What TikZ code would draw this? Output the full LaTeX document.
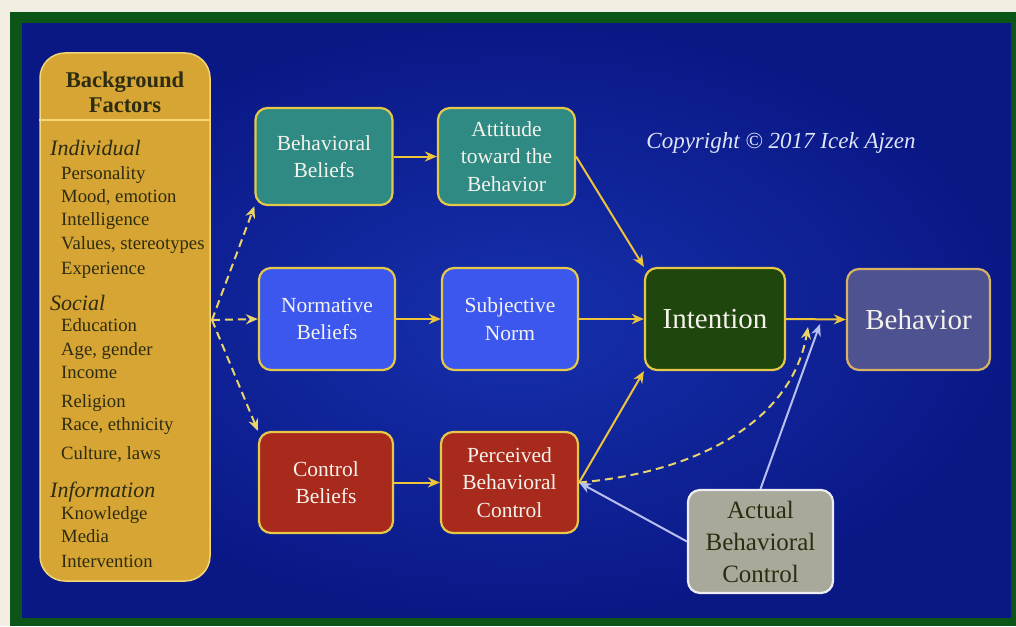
\documentclass[tikz,border=0pt]{standalone}
\usepackage{fontspec}
\setmainfont{Liberation Serif}
\usetikzlibrary{arrows.meta}
\definecolor{beige}{HTML}{F2EEE2}
\definecolor{framegreen}{HTML}{0B5516}
\definecolor{bgin}{HTML}{1630AC}
\definecolor{bgout}{HTML}{0A1886}
\definecolor{gold}{HTML}{D6A534}
\definecolor{goldedge}{HTML}{F3D676}
\definecolor{olive}{HTML}{2E2C10}
\definecolor{tealc}{HTML}{2F8A84}
\definecolor{bluec}{HTML}{3B57EE}
\definecolor{redc}{HTML}{A82A1C}
\definecolor{greenc}{HTML}{1F460C}
\definecolor{slatec}{HTML}{4E5290}
\definecolor{grayc}{HTML}{A9A99B}
\definecolor{grayedge}{HTML}{ECECF2}
\definecolor{boxedge}{HTML}{E6C848}
\definecolor{behedge}{HTML}{D8B262}
\definecolor{textwhite}{HTML}{F4F2EA}
\definecolor{arrowyellow}{HTML}{EEC43A}
\definecolor{dashyellow}{HTML}{E8D468}
\definecolor{lavender}{HTML}{B8C0F0}
\definecolor{copyc}{HTML}{E0E4F8}
\begin{document}
\begin{tikzpicture}[x=1pt,y=-1pt,
  box/.style={draw=boxedge, line width=2.2pt, rounded corners=12pt, text=textwhite, align=center, inner sep=0pt,
    font=\fontsize{21.5}{27.5}\selectfont},
  bigbox/.style={box, font=\fontsize{29}{32}\selectfont},
  cat/.style={anchor=base west, inner sep=0pt, text=olive, font=\fontsize{22}{24}\selectfont\itshape},
  item/.style={anchor=base west, inner sep=0pt, text=olive, font=\fontsize{18.7}{20}\selectfont},
  arr/.style={-{Stealth[length=12pt,width=10pt]}, line width=2pt, draw=arrowyellow},
  darr/.style={-{Stealth[length=12pt,width=10pt]}, line width=2pt, draw=dashyellow, dash pattern=on 8pt off 5pt},
  warr/.style={-{Stealth[length=12pt,width=10pt]}, line width=2pt, draw=lavender}]
\useasboundingbox (0,0) rectangle (1016,626);
\fill[beige] (0,0) rectangle (1016,626);
\fill[framegreen] (10,12) rectangle (1016,626);
\shade[inner color=bgin, outer color=bgout] (22,24) rectangle (1011,617);

% Background factors box
\node[draw=goldedge, fill=gold, line width=1.5pt, rounded corners=25pt, minimum width=170pt, minimum height=528pt, inner sep=0pt] (bf) at (125,317) {};
\draw[goldedge, line width=1.2pt] (bf.west |- 0,120) -- (bf.east |- 0,120);
\node[align=center, text=olive, font=\fontsize{22.5}{25}\selectfont\bfseries] (bft) at (125,92) {Background\\Factors};
\node[cat] (c1) at (50,155) {Individual};
\node[item] (i1) at (61,179) {Personality};
\node[item] (i2) at (61,202) {Mood, emotion};
\node[item] (i3) at (61,225) {Intelligence};
\node[item] (i4) at (61,249) {Values, stereotypes};
\node[item] (i5) at (61,274) {Experience};
\node[cat] (c2) at (50,310) {Social};
\node[item] (i6) at (61,331) {Education};
\node[item] (i7) at (61,355) {Age, gender};
\node[item] (i8) at (61,378) {Income};
\node[item] (i9) at (61,407) {Religion};
\node[item] (i10) at (61,430) {Race, ethnicity};
\node[item] (i11) at (61,459) {Culture, laws};
\node[cat] (c3) at (50,497) {Information};
\node[item] (i12) at (61,519) {Knowledge};
\node[item] (i13) at (61,542) {Media};
\node[item] (i14) at (61,567) {Intervention};
\coordinate (bfo) at (212,320);

% main boxes
\node[box, fill=tealc, minimum width=137pt, minimum height=97pt] (bb) at (324,156.5) {Behavioral\\Beliefs};
\node[box, fill=tealc, minimum width=137pt, minimum height=97pt] (att) at (506.5,156.5) {Attitude\\toward the\\Behavior};
\node[box, fill=bluec, minimum width=136pt, minimum height=102pt] (nb) at (327,319) {Normative\\Beliefs};
\node[box, fill=bluec, minimum width=136pt, minimum height=102pt] (sn) at (510,319) {Subjective\\Norm};
\node[box, fill=redc, minimum width=134pt, minimum height=101pt] (cb) at (326,482.5) {Control\\Beliefs};
\node[box, fill=redc, minimum width=137pt, minimum height=101pt] (pbc) at (509.5,482.5) {Perceived\\Behavioral\\Control};
\node[bigbox, fill=greenc, minimum width=140pt, minimum height=102pt] (int) at (715,319) {Intention};
\node[bigbox, fill=slatec, draw=behedge, minimum width=143pt, minimum height=101pt] (beh) at (918.5,319.5) {Behavior};
\node[box, fill=grayc, draw=grayedge, text=olive, font=\fontsize{25}{32}\selectfont, minimum width=145pt, minimum height=103pt] (abc) at (760.5,541.5) {Actual\\Behavioral\\Control};

\node[text=copyc, font=\fontsize{23}{25}\selectfont\itshape, inner sep=0pt] (copy) at (781,143) {Copyright \textcopyright\ 2017 Icek Ajzen};

% connectors
\draw[darr] (bfo) -- (bb.south west);
\draw[darr] (bfo) -- (nb.west);
\draw[darr] (bfo) -- (cb.north west);
\draw[arr] (bb.east) -- (att.west);
\draw[arr] (nb.east) -- (sn.west);
\draw[arr] (cb.east) -- (pbc.west);
\draw[arr] (att.east) -- (int.north west);
\draw[arr] (sn.east) -- (int.west);
\draw[arr] (pbc.east) -- (int.south west);
\draw[arr] (int.east) -- (beh.west);
\coordinate (dtip) at (808,327);
\coordinate (wtip) at (820,324);
\draw[darr] (pbc.east) .. controls (700,472) and (792,420) .. (dtip);
\draw[warr] (abc.north) -- (wtip);
\draw[warr] (abc.west) -- (pbc.east);
\end{tikzpicture}
\end{document}
